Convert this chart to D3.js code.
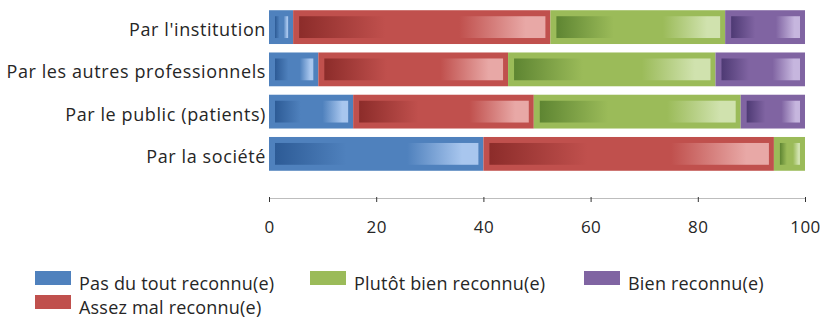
<!DOCTYPE html>
<html>
<head>
<meta charset="utf-8">
<script src="https://cdn.jsdelivr.net/npm/d3@7/dist/d3.min.js"></script>
<style>
  body { margin: 0; background: #fff; }
  text { font-family: "Open Sans", sans-serif; fill: #262626; }
</style>
</head>
<body>
<div id="chart"></div>
<script>
const categories = ["Par l'institution", "Par les autres professionnels", "Par le public (patients)", "Par la société"];
const seriesNames = ["Pas du tout reconnu(e)", "Assez mal reconnu(e)", "Plutôt bien reconnu(e)", "Bien reconnu(e)"];
const pasDuTout = [4.5, 9.2, 15.7, 40];
const assezMal = [48, 35.4, 33.7, 54.2];
const plutotBien = [32.6, 38.7, 38.6, 5.8];
const bien = [14.9, 16.7, 12, 0];
const ticks = [0, 20, 40, 60, 80, 100];

const W = 825, H = 318;
const colors = [
  { base: '#4F81BD', dark: '#2D5B96', light: '#A8C6EE' },
  { base: '#C0504D', dark: '#8C2C2A', light: '#E8A8A6' },
  { base: '#9BBB59', dark: '#5E8532', light: '#D0E2AE' },
  { base: '#8064A2', dark: '#4E3A74', light: '#C6B6DE' }
];

const table = categories.map((c, i) => ({
  cat: c, s0: pasDuTout[i], s1: assezMal[i], s2: plutotBien[i], s3: bien[i]
}));
const keys = ['s0', 's1', 's2', 's3'];
const stacked = d3.stack().keys(keys)(table);

const svg = d3.select('#chart').append('svg')
  .attr('width', W).attr('height', H);

const defs = svg.append('defs');
colors.forEach((c, i) => {
  const g = defs.append('linearGradient').attr('id', 'grad' + i)
    .attr('x1', 0).attr('x2', 1).attr('y1', 0).attr('y2', 0);
  [[0, c.dark], [0.35, c.base], [0.65, c.base], [0.92, c.light], [1, c.light]]
    .forEach(([o, col]) => g.append('stop').attr('offset', o).attr('stop-color', col));
});

const x = d3.scaleLinear().domain([0, 100]).range([269, 805]);
const y = d3.scaleBand().domain(categories).range([6, 175])
  .paddingInner(0.2).paddingOuter(0.1);

// bars
const layers = svg.append('g').selectAll('g')
  .data(stacked).join('g');

layers.each(function (layer, li) {
  const g = d3.select(this);
  const segs = layer.filter(d => d[1] - d[0] > 0);
  g.selectAll('rect.outer').data(segs).join('rect')
    .attr('class', 'outer')
    .attr('x', d => x(d[0]))
    .attr('y', d => y(d.data.cat))
    .attr('width', d => x(d[1]) - x(d[0]))
    .attr('height', y.bandwidth())
    .attr('fill', colors[li].base);
  g.selectAll('rect.inner').data(segs).join('rect')
    .attr('class', 'inner')
    .attr('x', d => x(d[0]) + 6)
    .attr('y', d => y(d.data.cat) + 6)
    .attr('width', d => Math.max(0, x(d[1]) - x(d[0]) - 11))
    .attr('height', y.bandwidth() - 12)
    .attr('fill', 'url(#grad' + li + ')');
});

// category labels
svg.append('g').selectAll('text')
  .data(categories).join('text')
  .attr('x', 266)
  .attr('y', d => y(d) + y.bandwidth() / 2)
  .attr('dy', '0.5em')
  .attr('text-anchor', 'end')
  .style('font-size', '18px')
  .style('letter-spacing', '0.6px')
  .text(d => d);

// x axis
const axis = svg.append('g').attr('transform', 'translate(0,198)')
  .call(d3.axisBottom(x).tickValues(ticks).tickSize(4).tickSizeOuter(0).tickPadding(19));
axis.select('.domain').attr('stroke', '#bdbdbd');
axis.selectAll('.tick line').attr('stroke', '#333').attr('y1', -1);
axis.selectAll('.tick text')
  .style('font-size', '17px')
  .style('font-family', '"Open Sans", sans-serif')
  .style('letter-spacing', '0.5px')
  .attr('fill', '#262626');

// legend
const legendPos = [[35, 0], [35, 1], [310, 0], [584, 0]];
const legend = svg.append('g').selectAll('g')
  .data(seriesNames).join('g')
  .attr('transform', (d, i) => `translate(${legendPos[i][0]},${271 + legendPos[i][1] * 24})`);
legend.append('rect')
  .attr('x', 0).attr('y', 0).attr('width', 36).attr('height', 14)
  .attr('fill', (d, i) => colors[i].base);
legend.append('text')
  .attr('x', 44).attr('y', 19)
  .style('font-size', '18px')
  .style('letter-spacing', '0.2px')
  .text(d => d);
</script>
</body>
</html>
